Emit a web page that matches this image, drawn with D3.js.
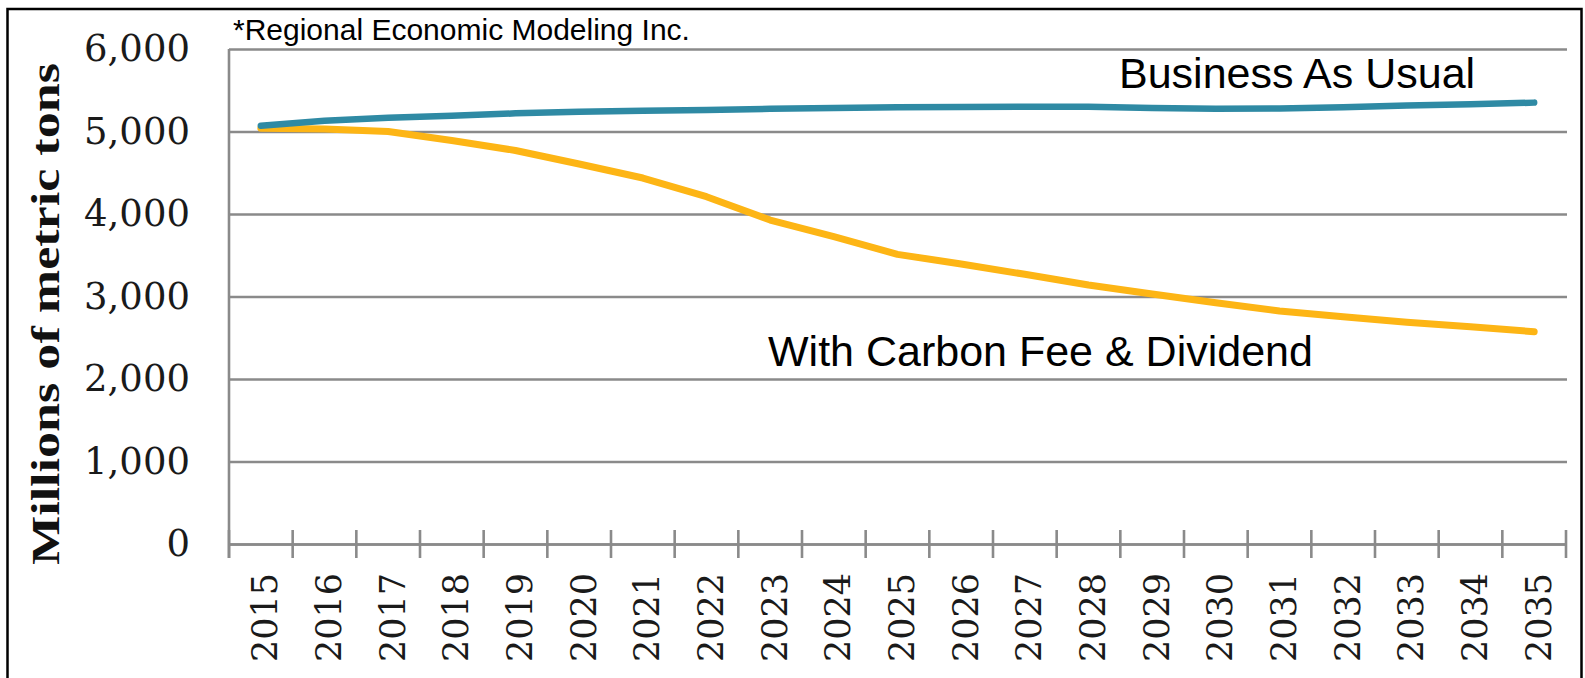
<!DOCTYPE html>
<html>
<head>
<meta charset="utf-8">
<script src="https://cdn.jsdelivr.net/npm/d3@7"></script>
<style>
  html, body { margin: 0; padding: 0; background: #fff; }
  svg { display: block; }
</style>
</head>
<body>
<svg id="chart" width="1585" height="678"></svg>
<script>
const years = ["2015","2016","2017","2018","2019","2020","2021","2022","2023","2024","2025",
               "2026","2027","2028","2029","2030","2031","2032","2033","2034","2035"];
const businessAsUsual = [5070,5130,5167,5190,5220,5240,5252,5262,5275,5285,5293,
                         5298,5300,5300,5285,5275,5280,5295,5315,5330,5350];
const withCarbonFee = [5040,5030,5000,4890,4770,4606,4436,4210,3927,3725,3511,
                       3394,3269,3139,3030,2925,2824,2755,2687,2634,2573];
const yTicks = [0,1000,2000,3000,4000,5000,6000];
const yTitle = "Millions of metric tons";
const sourceNote = "*Regional Economic Modeling Inc.";
const seriesLabels = ["Business As Usual", "With Carbon Fee & Dividend"];

const svg = d3.select("#chart");
const L = 229, R = 1566, T = 49, B = 544;
const gridRight = 1567;

const x = d3.scaleBand().domain(years).range([L, R]).padding(0);
const y = d3.scaleLinear().domain([0, 6000]).range([B, T]);

// frame
svg.append("rect").attr("x", 7.5).attr("y", 9).attr("width", 1574).attr("height", 720)
  .attr("fill", "none").attr("stroke", "#000").attr("stroke-width", 2.5);

// gridlines
const grid = svg.append("g").attr("transform", `translate(${L},0)`)
  .call(d3.axisLeft(y).tickValues(yTicks).tickSize(-(gridRight - L)).tickFormat(""));
grid.select(".domain").remove();
grid.selectAll("line").attr("stroke", "#8a8a8a").attr("stroke-width", 2.6);

// y axis vertical line
svg.append("line").attr("x1", L).attr("x2", L).attr("y1", y(6000)).attr("y2", B + 14)
  .attr("stroke", "#8a8a8a").attr("stroke-width", 2.6);

// y axis labels
const yAx = svg.append("g").attr("transform", `translate(${L},0)`)
  .call(d3.axisLeft(y).tickValues(yTicks).tickSize(0).tickPadding(39).tickFormat(d3.format(",")));
yAx.select(".domain").remove();
yAx.selectAll("text").attr("font-family", "'DejaVu Serif', serif").attr("font-size", 37)
  .attr("fill", "#1a1a1a");

// x axis ticks at band boundaries
const boundaries = years.map(d => x(d)).concat([x(years[years.length - 1]) + x.bandwidth()]);
svg.append("g").selectAll("line").data(boundaries).join("line")
  .attr("x1", d => d).attr("x2", d => d).attr("y1", B - 14).attr("y2", B + 14)
  .attr("stroke", "#8a8a8a").attr("stroke-width", 2.6);

// x axis labels
const xAx = svg.append("g").attr("transform", `translate(0,${B})`)
  .call(d3.axisBottom(x).tickSize(0).tickFormat(d => d));
xAx.select(".domain").attr("stroke", "#8a8a8a").attr("stroke-width", 2.6);
xAx.selectAll("text")
  .attr("font-family", "'DejaVu Serif', serif").attr("font-size", 35).attr("fill", "#1a1a1a")
  .attr("text-anchor", "end")
  .attr("transform", "translate(4,29) rotate(-90)")
  .attr("x", 0).attr("y", 0).attr("dy", "0.36em");

// y title
svg.append("text")
  .attr("transform", `translate(59,314) rotate(-90)`)
  .attr("text-anchor", "middle")
  .attr("font-family", "'Liberation Serif', serif").attr("font-weight", "bold")
  .attr("font-size", 41).attr("fill", "#111")
  .attr("textLength", 502).attr("lengthAdjust", "spacingAndGlyphs")
  .text(yTitle);

// lines
const line = d3.line().x((d, i) => x(years[i]) + x.bandwidth() / 2).y(d => y(d));
svg.append("path").datum(withCarbonFee).attr("d", line)
  .attr("fill", "none").attr("stroke", "#FDB515").attr("stroke-width", 7)
  .attr("stroke-linecap", "round").attr("stroke-linejoin", "round");
svg.append("path").datum(businessAsUsual).attr("d", line)
  .attr("fill", "none").attr("stroke", "#2F8AA4").attr("stroke-width", 6.5)
  .attr("stroke-linecap", "round").attr("stroke-linejoin", "round");

// texts
svg.append("text").attr("x", 233).attr("y", 40)
  .attr("font-family", "'Liberation Sans', Arial, sans-serif").attr("font-size", 30).attr("fill", "#000")
  .text(sourceNote);
svg.append("text").attr("x", 1119).attr("y", 88)
  .attr("font-family", "'Liberation Sans', Arial, sans-serif").attr("font-size", 43).attr("fill", "#000")
  .text(seriesLabels[0]);
svg.append("text").attr("x", 768).attr("y", 366)
  .attr("font-family", "'Liberation Sans', Arial, sans-serif").attr("font-size", 43).attr("fill", "#000")
  .text(seriesLabels[1]);
</script>
</body>
</html>
